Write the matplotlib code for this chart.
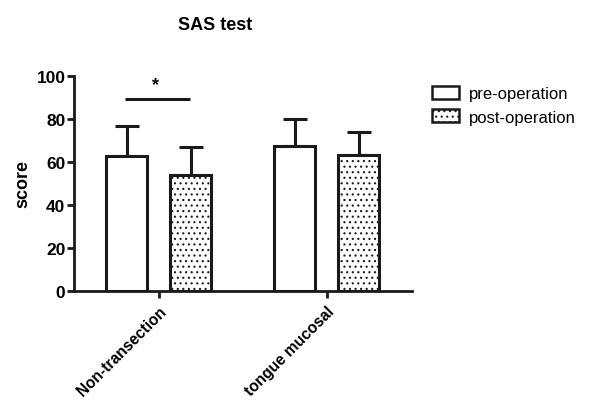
import matplotlib
matplotlib.use("Agg")
import matplotlib.pyplot as plt
import numpy as np

plt.rcParams['font.family'] = ['Liberation Sans', 'DejaVu Sans']
plt.rcParams['hatch.color'] = '#808080'
plt.rcParams['hatch.linewidth'] = 0.8

categories = ["Non-transection", "tongue mucosal"]
series_names = ["pre-operation", "post-operation"]
pre_mean = [62.8, 67.4]
pre_err = [13.9, 12.6]
post_mean = [54.0, 63.3]
post_err = [13.0, 10.6]
yticks = [0, 20, 40, 60, 80, 100]
sig_y = 89.3

fig = plt.figure(figsize=(5.95, 4.02), dpi=100)
ax = fig.add_axes([0.124, 0.2736, 0.568, 0.535])

x = np.arange(len(categories))
w = 0.245
off = 0.19
lw = 2.2
ec = '#1a1a1a'
ax.bar(x - off, pre_mean, w, color='white', edgecolor=ec, linewidth=lw,
       label=series_names[0], zorder=3)
ax.bar(x + off, post_mean, w, color='white', edgecolor=ec, linewidth=lw,
       hatch='...', label=series_names[1], zorder=3)
ax.errorbar(x - off, pre_mean, yerr=[np.zeros(2), pre_err], fmt='none',
            ecolor=ec, elinewidth=lw, capsize=8.5, capthick=lw, zorder=2)
ax.errorbar(x + off, post_mean, yerr=[np.zeros(2), post_err], fmt='none',
            ecolor=ec, elinewidth=lw, capsize=8.5, capthick=lw, zorder=2)

# significance marker
ax.plot([-0.2, 0.185], [sig_y, sig_y], color=ec, lw=lw, solid_capstyle='butt')
ax.text(-0.02, 92, "*", ha='center', va='bottom', fontsize=13, fontweight='bold')

ax.set_xlim(-0.506, 1.506)
ax.set_ylim(0, 100)
ax.set_yticks(yticks)
ax.set_yticklabels([str(v) for v in yticks], fontsize=12.5, fontweight='bold')
ax.set_xticks(x)
ax.set_xticklabels(categories, rotation=45, ha='right', va='top',
                   rotation_mode='anchor', fontsize=11.2, fontweight='bold')
ax.set_ylabel("score", fontsize=13, fontweight='bold', labelpad=4)

for s in ['top', 'right']:
    ax.spines[s].set_visible(False)
for s in ['left', 'bottom']:
    ax.spines[s].set_linewidth(2)
    ax.spines[s].set_color(ec)
ax.tick_params(axis='both', width=2, length=5, color=ec)
ax.tick_params(axis='y', pad=1)
ax.tick_params(axis='x', pad=4)

ax.set_title("SAS test", fontsize=13, fontweight='bold', pad=34, x=0.417)

leg = ax.legend(loc='upper left', bbox_to_anchor=(1.04, 0.985), frameon=False,
                fontsize=12, handlelength=1.6, handleheight=0.8, borderaxespad=0,
                labelspacing=0.5, handletextpad=0.6)
for p in leg.get_patches():
    p.set_linewidth(1.8)

fig.savefig("out.png", dpi=100)
